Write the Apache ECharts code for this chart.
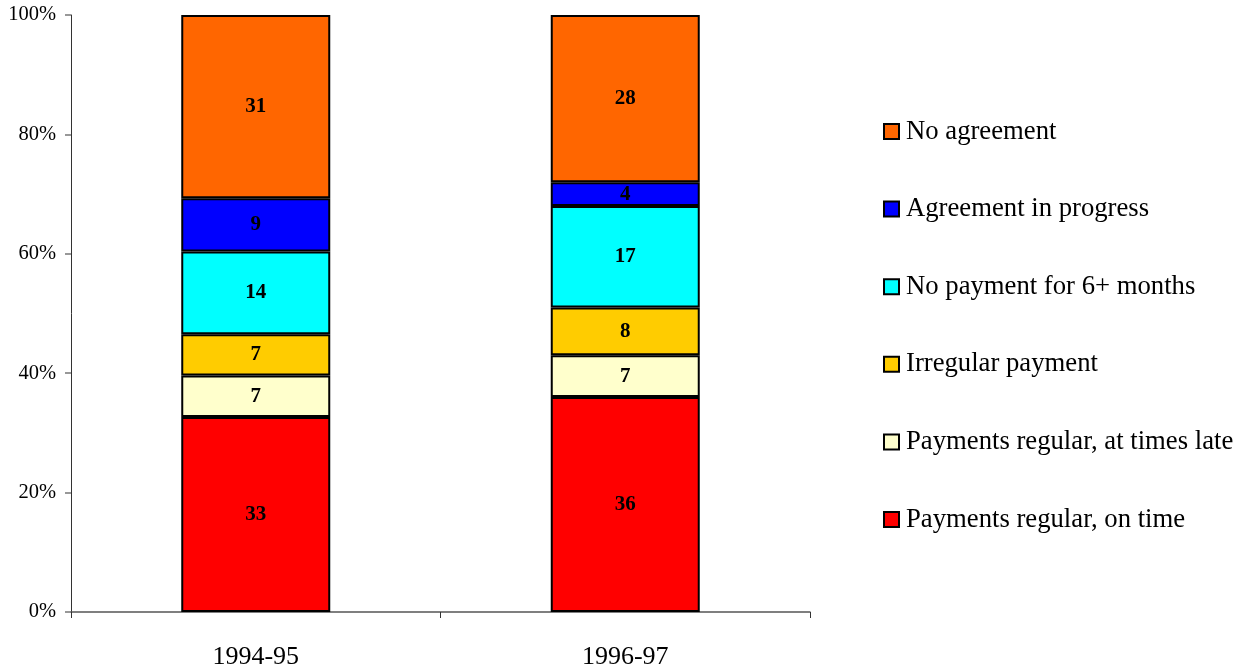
<!DOCTYPE html>
<html>
<head>
<meta charset="utf-8">
<script src="https://cdn.jsdelivr.net/npm/echarts@6/dist/echarts.min.js"></script>
<style>
html,body{margin:0;padding:0;background:#fff;}
#chart{width:1242px;height:671px;}
</style>
</head>
<body>
<div id="chart"></div>
<script>
// categories on the x axis
var years = ['1994-95', '1996-97'];
// stacked segments, bottom to top
var seriesNames = ['Payments regular, on time', 'Payments regular, at times late', 'Irregular payment',
  'No payment for 6+ months', 'Agreement in progress', 'No agreement'];
var onTime = [33, 36];
var timesLate = [7, 7];
var irregular = [7, 8];
var noPayment = [14, 17];
var inProgress = [9, 4];
var noAgreement = [31, 28];
var colors = ['#FF0000', '#FFFFCC', '#FFCC00', '#00FFFF', '#0000FF', '#FF6600'];
var yTicks = [0, 20, 40, 60, 80, 100];

var allValues = [onTime, timesLate, irregular, noPayment, inProgress, noAgreement];
// totals per year, bars are shown as percent of total
var totals = years.map(function(y, i){
  return allValues.reduce(function(s, arr){ return s + arr[i]; }, 0);
});

var font = 'Liberation Serif';

var series = allValues.map(function(arr, k){
  return {
    name: seriesNames[k],
    type: 'bar',
    stack: 'total',
    barWidth: 149,
    data: arr.map(function(v, i){ return {value: v / totals[i] * 100, raw: v}; }),
    itemStyle: {color: colors[k], borderColor: '#000', borderWidth: 2},
    label: {
      show: true,
      position: 'inside',
      formatter: function(p){ return p.data.raw; },
      color: '#000',
      fontFamily: font,
      fontWeight: 'bold',
      fontSize: 21
    }
  };
});

var chart = echarts.init(document.getElementById('chart'));
chart.setOption({
  animation: false,
  grid: {left: 71, right: 432, top: 15, bottom: 59},
  legend: {
    orient: 'vertical',
    left: 883,
    top: 118,
    padding: 0,
    data: seriesNames.slice().reverse(),
    icon: 'rect',
    itemWidth: 15,
    itemHeight: 15,
    itemGap: 50.6,
    textStyle: {fontFamily: font, fontSize: 26.7, color: '#000', lineHeight: 26, padding: [0, 0, 0, 2]}
  },
  xAxis: {
    type: 'category',
    data: years,
    axisLine: {lineStyle: {color: '#555', width: 1.5}},
    axisTick: {show: true, alignWithLabel: false, length: 6, lineStyle: {color: '#333'}},
    axisLabel: {fontFamily: font, fontSize: 26, color: '#000', margin: 32}
  },
  yAxis: {
    type: 'value',
    min: yTicks[0],
    max: yTicks[yTicks.length - 1],
    interval: 20,
    splitLine: {show: false},
    axisLine: {show: true, lineStyle: {color: '#333', width: 1}},
    axisTick: {show: true, length: 6, lineStyle: {color: '#777', width: 1.5}},
    axisLabel: {fontFamily: font, fontSize: 20.5, color: '#000', margin: 15, formatter: '{value}%'}
  },
  series: series
});
</script>
</body>
</html>
